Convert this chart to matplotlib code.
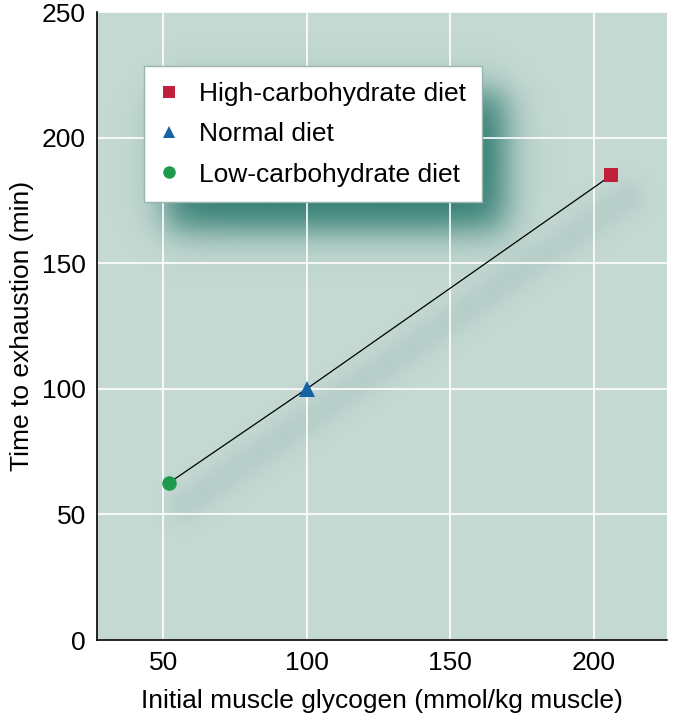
import matplotlib
matplotlib.use("Agg")
import matplotlib.pyplot as plt
import numpy as np
from matplotlib.lines import Line2D

plt.rcParams["font.family"] = ["Liberation Sans", "DejaVu Sans"]

# data
diets = ["High-carbohydrate diet", "Normal diet", "Low-carbohydrate diet"]
glycogen = [206, 100, 52]          # mmol/kg muscle
time_to_exhaustion = [185, 100, 62.5]  # min
x_ticks = [50, 100, 150, 200]
y_ticks = [0, 50, 100, 150, 200, 250]

markers = ["s", "^", "o"]
colors = ["#c0203c", "#1562a4", "#1e9a4c"]
bg = "#c5d9d3"

W, H = 685, 719
fig = plt.figure(figsize=(W / 100, H / 100), dpi=100)
ax_l, ax_r, ax_t, ax_b = 97, 667, 12, 640
ax = fig.add_axes([ax_l / W, (H - ax_b) / H, (ax_r - ax_l) / W, (ax_b - ax_t) / H])
ax.set_facecolor(bg)
ax.set_xlim(27, 225.4)
ax.set_ylim(0, 250)

ax.set_xticks(x_ticks)
ax.set_yticks(y_ticks)
ax.grid(True, color="white", linewidth=1.2)
ax.set_axisbelow(True)  # grid at zorder 0.5, shadows drawn beneath it
ax.tick_params(length=0, labelsize=19, pad=8)
for s in ("top", "right"):
    ax.spines[s].set_visible(False)
ax.spines["left"].set_linewidth(1.2)
ax.spines["bottom"].set_linewidth(1.2)

ax.set_xlabel("Initial muscle glycogen (mmol/kg muscle)", fontsize=19, labelpad=10)
ax.set_ylabel("Time to exhaustion (min)", fontsize=19, labelpad=6)

# ---- soft drop shadows, built as an image over the axes ------------------
wpx, hpx = ax_r - ax_l, ax_b - ax_t
cols, rows = np.meshgrid(np.arange(wpx) + 0.5, np.arange(hpx) + 0.5)


def to_px(x, y):
    px = (x - 27) / (225.4 - 27) * wpx
    py = (1 - y / 250) * hpx
    return px, py


def soft_step(v, s):
    return 1.0 / (1.0 + np.exp(-v / s))


# shadow under the data line
xs = np.array(glycogen, dtype=float)
ys = np.array(time_to_exhaustion, dtype=float)
p0 = np.array(to_px(xs[-1], ys[-1])) + np.array([16, 22])
p1 = np.array(to_px(xs[0], ys[0])) + np.array([16, 22])
d = p1 - p0
t = np.clip(((cols - p0[0]) * d[0] + (rows - p0[1]) * d[1]) / (d @ d), 0, 1)
dist = np.hypot(cols - (p0[0] + t * d[0]), rows - (p0[1] + t * d[1]))
line_alpha = 0.18 * np.exp(-dist ** 2 / (2 * 13.0 ** 2))

# shadow under the legend box (pixel coords within the axes)
lx0, ly0, lx1, ly1 = 144 - ax_l + 22, 66 - ax_t + 26, 485 - ax_l + 20, 203 - ax_t + 26
box_alpha = 0.9 * (soft_step(cols - lx0, 11) * soft_step(lx1 - cols, 11)
                   * soft_step(rows - ly0, 11) * soft_step(ly1 - rows, 11))

img = np.zeros((hpx, wpx, 4))
line_rgb = np.array([120, 155, 155]) / 255
box_rgb = np.array([28, 112, 100]) / 255
a = box_alpha + line_alpha * (1 - box_alpha)
img[..., :3] = (box_rgb * box_alpha[..., None]
                + line_rgb * (line_alpha * (1 - box_alpha))[..., None]) / np.maximum(a, 1e-6)[..., None]
img[..., 3] = a
ax.imshow(img, extent=(27, 225.4, 0, 250), origin="upper", aspect="auto",
          interpolation="bilinear", zorder=0.3)

# ---- data -----------------------------------------------------------------
ax.plot(glycogen, time_to_exhaustion, color="black", linewidth=0.9, zorder=2)
sizes = [10, 11, 10.5]
for gx, ty, m, c, ms in zip(glycogen, time_to_exhaustion, markers, colors, sizes):
    ax.plot(gx, ty, marker=m, color=c, markersize=ms, linestyle="none",
            markeredgewidth=0, zorder=3, clip_on=False)

handles = [Line2D([], [], marker=m, color=c, linestyle="none", markersize=9,
                  markeredgewidth=0) for m, c in zip(markers, colors)]
leg = ax.legend(handles, diets, loc="upper left",
                bbox_to_anchor=((144 - ax_l) / wpx, (ax_b - 66) / hpx),
                fontsize=19, frameon=True, fancybox=False, framealpha=1,
                edgecolor="#9ab5ae", borderpad=0.6, labelspacing=0.62,
                handletextpad=0.78, handlelength=0.72, borderaxespad=0)
leg.get_frame().set_linewidth(1.0)
leg.set_zorder(5)

fig.savefig("out.png", dpi=100, facecolor="white")
